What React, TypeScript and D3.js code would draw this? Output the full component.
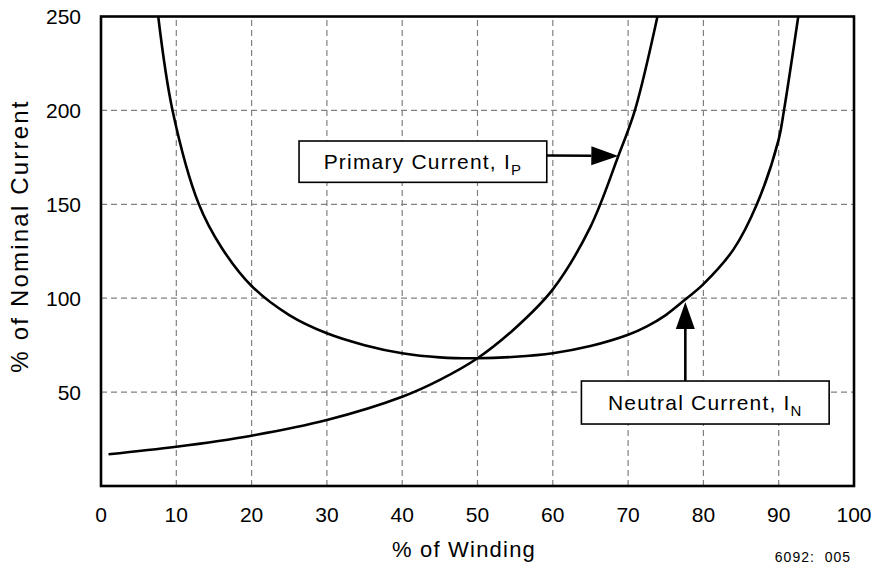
import { useEffect, useRef } from "react"
import * as d3 from "d3"

// % of winding vs % of nominal current
const primaryCurrent: [number, number][] = [
  [1, 16.9], [10, 20.9], [20, 26.8], [30, 35.1], [40, 47.5], [45, 56.5],
  [50, 68], [55, 84], [60, 104.7], [65, 138], [68.7, 175.7],
  [70.9, 200], [73.9, 250],
]
const neutralCurrent: [number, number][] = [
  [7.6, 250], [9.5, 200], [13, 150], [16, 127], [20, 106.5], [25, 91],
  [30, 81.3], [35, 75], [40, 70.7], [45, 68.5], [50, 68], [55, 68.8],
  [60, 70.7], [65, 74.5], [70, 80.5], [72.5, 85], [75, 91], [77.8, 100],
  [80, 107.5], [84, 126], [87.1, 150], [90, 184.6], [90.7, 200], [92.6, 250],
]
const xTicks = [0, 10, 20, 30, 40, 50, 60, 70, 80, 90, 100]
const yTicks = [50, 100, 150, 200, 250]
const xGrid = [10, 20, 30, 40, 50, 60, 70, 80, 90]
const yGrid = [50, 100, 150, 200]

const FONT = "'Liberation Sans', Arial, Helvetica, sans-serif"

export default function App() {
  const svgRef = useRef<SVGSVGElement>(null)

  useEffect(() => {
    document.body.style.margin = "0"
    if (!svgRef.current) return
    const svg = d3.select(svgRef.current)
    svg.selectAll("*").remove()

    const x = d3.scaleLinear().domain([0, 100]).range([101, 854])
    const y = d3.scaleLinear().domain([0, 250]).range([486, 16.5])

    svg.append("rect").attr("width", 877).attr("height", 567).attr("fill", "white")

    svg.append("defs").append("clipPath").attr("id", "plot-clip")
      .append("rect")
      .attr("x", x(0)).attr("y", y(250))
      .attr("width", x(100) - x(0)).attr("height", y(0) - y(250))

    // grid
    const grid = svg.append("g").attr("stroke", "#808080").attr("stroke-width", 1.2).attr("stroke-dasharray", "6,4")
    grid.selectAll("line.v").data(xGrid).join("line")
      .attr("class", "v")
      .attr("x1", (d) => x(d)).attr("x2", (d) => x(d))
      .attr("y1", y(0)).attr("y2", y(250))
    grid.selectAll("line.h").data(yGrid).join("line")
      .attr("class", "h")
      .attr("x1", x(0)).attr("x2", x(100))
      .attr("y1", (d) => y(d)).attr("y2", (d) => y(d))

    // curves
    const line = d3.line<[number, number]>()
      .x((d) => x(d[0]))
      .y((d) => y(d[1]))
      .curve(d3.curveCatmullRom.alpha(0.5))

    const curves = svg.append("g").attr("clip-path", "url(#plot-clip)")
    ;[primaryCurrent, neutralCurrent].forEach((data) => {
      curves.append("path")
        .attr("d", line(data))
        .attr("fill", "none")
        .attr("stroke", "black")
        .attr("stroke-width", 2.6)
    })

    // frame
    svg.append("rect")
      .attr("x", x(0)).attr("y", y(250))
      .attr("width", x(100) - x(0)).attr("height", y(0) - y(250))
      .attr("fill", "none").attr("stroke", "black").attr("stroke-width", 2.6)

    // tick labels
    svg.append("g").selectAll("text").data(yTicks).join("text")
      .attr("x", 81).attr("y", (d) => y(d))
      .attr("dy", "0.36em")
      .attr("text-anchor", "end")
      .attr("font-family", FONT).attr("font-size", 21)
      .text((d) => d)

    svg.append("g").selectAll("text").data(xTicks).join("text")
      .attr("x", (d) => x(d)).attr("y", 521.5)
      .attr("text-anchor", "middle")
      .attr("font-family", FONT).attr("font-size", 21)
      .text((d) => d)

    // axis titles
    svg.append("text")
      .attr("x", 464).attr("y", 557)
      .attr("text-anchor", "middle")
      .attr("font-family", FONT).attr("font-size", 22).attr("letter-spacing", 1.2)
      .text("% of Winding")

    svg.append("text")
      .attr("transform", `translate(28, 236) rotate(-90)`)
      .attr("text-anchor", "middle")
      .attr("font-family", FONT).attr("font-size", 24).attr("letter-spacing", 2.2)
      .text("% of Nominal Current")

    svg.append("text")
      .attr("x", 851).attr("y", 561.5)
      .attr("text-anchor", "end")
      .attr("font-family", FONT).attr("font-size", 14).attr("letter-spacing", 1)
      .style("white-space", "pre")
      .text("6092:  005")

    // annotations: label boxes with arrows pointing at the curves
    const labels = [
      { name: "Primary Current, I", sub: "P", box: [26.3, 59.2, 183.7, 161.7] },
      { name: "Neutral Current, I", sub: "N", box: [63.8, 96.7, 55.9, 33.0] },
    ]

    const arrow = (x1: number, y1: number, x2: number, y2: number) => {
      const len = 27, half = 9.5
      const ang = Math.atan2(y2 - y1, x2 - x1)
      const bx = x2 - len * Math.cos(ang), by = y2 - len * Math.sin(ang)
      svg.append("line")
        .attr("x1", x1).attr("y1", y1).attr("x2", bx).attr("y2", by)
        .attr("stroke", "black").attr("stroke-width", 2.6)
      const px = -Math.sin(ang) * half, py = Math.cos(ang) * half
      svg.append("path")
        .attr("d", `M${x2},${y2}L${bx + px},${by + py}L${bx - px},${by - py}Z`)
        .attr("fill", "black")
    }

    // primary arrow: right edge of box to the curve
    arrow(x(59.2), y(176), x(68.7), y(175.7))
    // neutral arrow: top of box up to the curve
    arrow(x(77.6), y(55.9), x(77.6), y(98))

    labels.forEach((l) => {
      const [x0, x1, y0, y1] = l.box
      const g = svg.append("g")
      g.append("rect")
        .attr("x", x(x0)).attr("y", y(y0))
        .attr("width", x(x1) - x(x0)).attr("height", y(y1) - y(y0))
        .attr("fill", "white").attr("stroke", "black").attr("stroke-width", 1.6)
      const t = g.append("text")
        .attr("x", (x(x0) + x(x1)) / 2)
        .attr("y", (y(y0) + y(y1)) / 2 + 7)
        .attr("text-anchor", "middle")
        .attr("font-family", FONT).attr("font-size", 21).attr("letter-spacing", 1.2)
      t.append("tspan").text(l.name)
      t.append("tspan").attr("dy", 6).attr("font-size", 15).text(l.sub)
    })
  }, [])

  return <svg ref={svgRef} width={877} height={567} style={{ display: "block" }} />
}
